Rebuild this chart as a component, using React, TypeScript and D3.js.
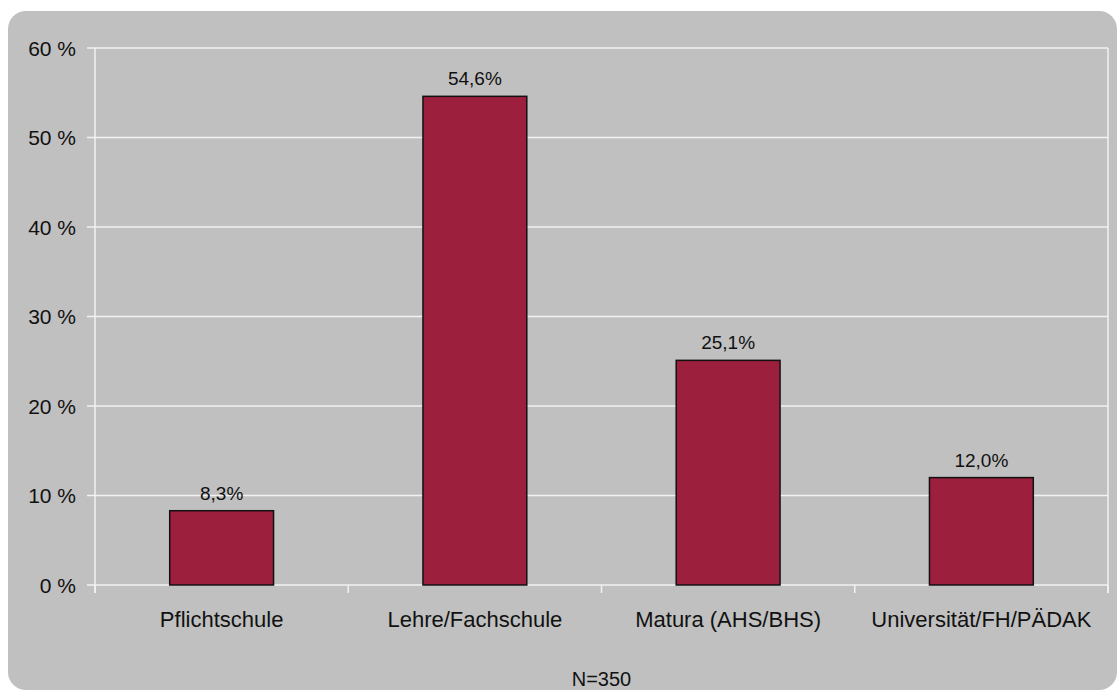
import React from "react";
import * as d3 from "d3";

const categories = ["Pflichtschule", "Lehre/Fachschule", "Matura (AHS/BHS)", "Universität/FH/PÄDAK"];
const values = [8.3, 54.6, 25.1, 12.0];
const valueLabels = ["8,3%", "54,6%", "25,1%", "12,0%"];
const yTicks = [0, 10, 20, 30, 40, 50, 60];
const yTickLabels = ["0 %", "10 %", "20 %", "30 %", "40 %", "50 %", "60 %"];
const footnote = "N=350";

const W = 1118;
const H = 691;
const plot = { left: 95, right: 1108, top: 48, bottom: 585 };
const font = "'Liberation Sans', Arial, sans-serif";
const barColor = "#9c1f3d";
const gridColor = "#f2f2f2";

export default function App() {
  const x = d3.scaleBand<string>().domain(categories).range([plot.left, plot.right]).padding(0);
  const y = d3.scaleLinear().domain([0, 60]).range([plot.bottom, plot.top]);
  const bw = x.bandwidth() * 0.41;
  const boundaries = [...categories.map((c) => x(c) as number), plot.right];

  return (
    <svg
      width={W}
      height={H}
      style={{ position: "absolute", left: 0, top: 0, display: "block" }}
      fontFamily={font}
    >
      <rect x={0} y={0} width={W} height={H} fill="#ffffff" />
      <rect x={8} y={11} width={1109} height={679} rx={18} ry={18} fill="#c0c0c0" />

      {/* gridlines and y ticks */}
      {yTicks.map((t, i) => (
        <g key={t}>
          <line x1={plot.left - 8} x2={plot.right} y1={y(t)} y2={y(t)} stroke={gridColor} strokeWidth={1.5} />
          <text
            x={76}
            y={y(t)}
            dy="0.36em"
            textAnchor="end"
            fontSize={21}
            fill="#111"
          >
            {yTickLabels[i]}
          </text>
        </g>
      ))}

      {/* axis verticals */}
      <line x1={plot.left} x2={plot.left} y1={plot.top} y2={plot.bottom + 8} stroke={gridColor} strokeWidth={1.5} />
      <line x1={plot.right} x2={plot.right} y1={plot.top} y2={plot.bottom + 8} stroke={gridColor} strokeWidth={1.5} />
      {boundaries.map((b, i) => (
        <line key={i} x1={b} x2={b} y1={plot.bottom} y2={plot.bottom + 8} stroke={gridColor} strokeWidth={1.5} />
      ))}

      {/* bars */}
      {categories.map((c, i) => {
        const cx = (x(c) as number) + x.bandwidth() / 2;
        return (
          <g key={c}>
            <rect
              x={cx - bw / 2}
              y={y(values[i])}
              width={bw}
              height={plot.bottom - y(values[i])}
              fill={barColor}
              stroke="#111"
              strokeWidth={1.5}
            />
            <text x={cx} y={y(values[i]) - 11} textAnchor="middle" fontSize={19} fill="#111">
              {valueLabels[i]}
            </text>
            <text x={cx} y={627} textAnchor="middle" fontSize={22} fill="#111">
              {c}
            </text>
          </g>
        );
      })}

      <text x={(plot.left + plot.right) / 2} y={686} textAnchor="middle" fontSize={20} fill="#111">
        {footnote}
      </text>
    </svg>
  );
}
